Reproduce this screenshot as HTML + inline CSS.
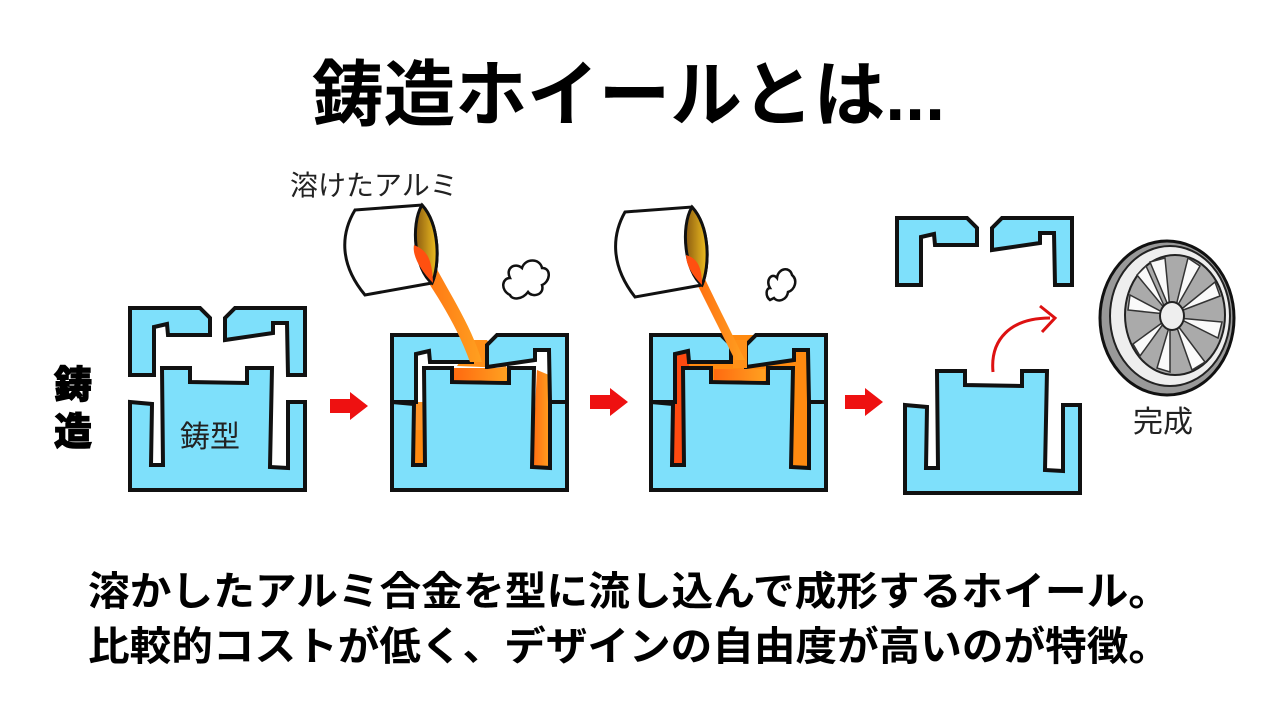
<!DOCTYPE html>
<html><head><meta charset="utf-8"><style>
html,body{margin:0;padding:0;background:#fff;}
svg{display:block;}
text{font-family:"Liberation Sans","Noto Sans CJK JP",sans-serif;}
</style></head><body>
<svg width="1280" height="720" viewBox="0 0 1280 720" xmlns="http://www.w3.org/2000/svg">
<defs>
<linearGradient id="og" x1="0" y1="0" x2="1" y2="0"><stop offset="0" stop-color="#ff6a10"/><stop offset="1" stop-color="#ffa020"/></linearGradient>
<linearGradient id="gold" x1="0" y1="0" x2="1" y2="0"><stop offset="0" stop-color="#8a5a10"/><stop offset="1" stop-color="#f0c020"/></linearGradient>
<g id="topL"><path d="M130,308 L200,308 L210,318 L210,335 L168,335 L167,324 L154,327 L154,375 L130,375 Z"/></g>
<g id="topR"><path d="M225,318 L235,308 L305,308 L305,375 L288,375 L287,323 L273,323 L273,333 L225,340 Z"/></g>
<g id="bot"><path d="M130,402 L152,404 L151,465 L163,465 L162,368 L190,368 L190,382 L247,383 L247,368 L272,368 L270,467 L288,468 L288,402 L305,402 L305,490 L130,490 Z"/></g>
</defs>

<text x="312" y="120" font-size="72" font-weight="bold" textLength="633" lengthAdjust="spacingAndGlyphs">鋳造ホイールとは...</text>

<text x="54" y="398" font-size="38" font-weight="900" stroke="#000" stroke-width="1">鋳</text>
<text x="54" y="445" font-size="38" font-weight="900" stroke="#000" stroke-width="1">造</text>

<g fill="#7ee0fb" stroke="#111" stroke-width="4" stroke-linejoin="miter">
<use href="#topL"/><use href="#topR"/><use href="#bot"/>
</g>
<text x="180" y="447" font-size="30" fill="#222">鋳型</text>

<!-- mold 2 -->
<g transform="translate(262,0)">
<rect x="130" y="335" width="175" height="155" fill="#fff"/>
<path d="M152,430 L162,430 L163,465 L151,465 Z" fill="#ff8a10"/>
<path d="M152,402 L164,402 L163,465 L151,465 Z" fill="#ff8a10" opacity="0.9"/>
<path d="M275,370 L287,375 L288,468 L270,467 Z" fill="url(#og)"/>
<path d="M190,368 L247,368 L247,383 L190,382 Z" fill="url(#og)"/>
<path d="M195,366 L212,340 L225,340 L245,368 Z" fill="#ff9018"/>
<g fill="#7ee0fb" stroke="#111" stroke-width="4">
<use href="#topL" transform="translate(0,27)"/><use href="#topR" transform="translate(0,27)"/><use href="#bot"/>
</g>
<path d="M198,369 L244,369 L244,381 L193,380 Z" fill="url(#og)"/>
</g>
<!-- mold 3 -->
<g transform="translate(521,0)">
<rect x="130" y="335" width="175" height="155" fill="#ff8a10"/>
<path d="M130,335 L170,335 L160,490 L130,490 Z" fill="#ff4a10"/>
<g fill="#7ee0fb" stroke="#111" stroke-width="4">
<use href="#topL" transform="translate(0,27)"/><use href="#topR" transform="translate(0,27)"/><use href="#bot"/>
</g>
<path d="M193,369 L244,369 L244,381 L193,380 Z" fill="url(#og)"/>
<path d="M212,340 L226,340 L226,368 L212,368 Z" fill="#ff9018"/>
</g>
<!-- mold 4 -->
<g fill="#7ee0fb" stroke="#111" stroke-width="4">
<use href="#topL" transform="translate(767,-90)"/><use href="#topR" transform="translate(767,-90)"/><use href="#bot" transform="translate(775,3)"/>
</g>

<!-- ladle 1 -->
<path d="M425,245 C440,280 470,320 482,362 L470,362 C455,320 430,285 410,255 Z" fill="url(#og)"/>
<path d="M355,210 L422,205 C440,225 440,265 432,283 L365,295 C340,265 340,235 355,210 Z" fill="#fff" stroke="#111" stroke-width="3"/>
<path d="M422,205 C440,225 440,265 432,283 C415,270 410,225 422,205 Z" fill="url(#gold)" stroke="#111" stroke-width="3"/>
<path d="M414,245 C425,250 432,255 433,283 C420,270 412,255 414,245 Z" fill="#ff5010"/>
<!-- ladle 2 -->
<path d="M697,262 C710,290 725,320 745,360 L735,360 C715,320 700,290 690,270 Z" fill="url(#og)"/>
<path d="M625,212 L692,207 C710,227 710,265 702,285 L635,297 C610,265 612,235 625,212 Z" fill="#fff" stroke="#111" stroke-width="3"/>
<path d="M692,207 C710,227 710,265 702,285 C685,272 680,227 692,207 Z" fill="url(#gold)" stroke="#111" stroke-width="3"/>
<path d="M686,255 C696,258 702,265 702,285 C692,275 686,265 686,255 Z" fill="#ff5010"/>
<!-- steam -->
<path d="M510,295 C500,290 502,278 510,278 C505,268 515,262 522,268 C525,258 540,258 542,268 C552,268 550,282 542,285 C545,295 532,298 528,292 C522,300 512,300 510,295 Z" fill="#fff" stroke="#111" stroke-width="2.5"/>
<path d="M770,300 C765,296 766,288 770,288 C765,280 772,272 777,278 C778,268 790,266 792,275 C798,280 795,290 788,292 C787,300 778,303 774,298 Z" fill="#fff" stroke="#111" stroke-width="2.5"/>

<text x="290" y="195" font-size="28" fill="#222">溶けたアルミ</text>

<g fill="#ee1111">
<path d="M330,399 L350,399 L350,392 L368,406 L350,420 L350,413 L330,413 Z"/>
<path d="M590,395 L610,395 L610,388 L628,402 L610,416 L610,409 L590,409 Z"/>
<path d="M845,395 L865,395 L865,388 L883,402 L865,416 L865,409 L845,409 Z"/>
</g>
<path d="M993,372 C990,340 1010,318 1050,318" fill="none" stroke="#dd1111" stroke-width="3"/>
<path d="M1040,306 L1055,318 L1042,332" fill="none" stroke="#dd1111" stroke-width="3"/>

<!-- wheel -->
<g>
<ellipse cx="1167" cy="318" rx="67" ry="77" fill="#999" stroke="#111" stroke-width="3"/>
<ellipse cx="1170" cy="316" rx="60" ry="70" fill="#eee" stroke="#222" stroke-width="2"/>
<ellipse cx="1175" cy="315" rx="50" ry="60" fill="#aaa" stroke="#222" stroke-width="2"/>
<g stroke="#333" stroke-width="1.5" fill="#fafafa">
<path d="M1170,310 L1150,262 L1165,258 Z"/><path d="M1175,310 L1188,258 L1200,266 Z"/>
<path d="M1178,312 L1215,282 L1220,296 Z"/><path d="M1178,318 L1222,322 L1218,338 Z"/>
<path d="M1175,322 L1205,362 L1192,370 Z"/><path d="M1170,324 L1170,372 L1157,368 Z"/>
<path d="M1166,320 L1140,356 L1133,344 Z"/><path d="M1166,314 L1128,310 L1130,295 Z"/>
<path d="M1166,310 L1137,275 L1146,266 Z"/>
</g>
<ellipse cx="1172" cy="316" rx="12" ry="14" fill="#eee" stroke="#222" stroke-width="2"/>
</g>
<text x="1133" y="432" font-size="30" fill="#222">完成</text>

<text x="88" y="605" font-size="40" font-weight="bold" textLength="1082" lengthAdjust="spacingAndGlyphs">溶かしたアルミ合金を型に流し込んで成形するホイール。</text>
<text x="88" y="660" font-size="40" font-weight="bold" textLength="1082" lengthAdjust="spacingAndGlyphs">比較的コストが低く、デザインの自由度が高いのが特徴。</text>
</svg>
</body></html>
